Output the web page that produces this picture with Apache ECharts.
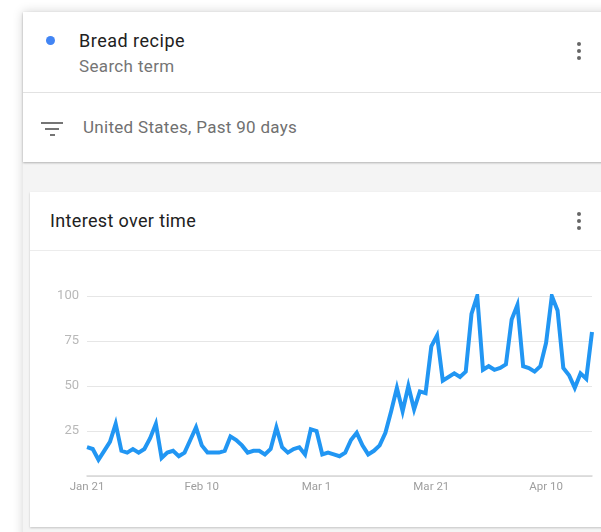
<!DOCTYPE html>
<html>
<head>
<meta charset="utf-8">
<script src="https://cdn.jsdelivr.net/npm/echarts@6/dist/echarts.min.js"></script>
<style>
  html, body { margin: 0; padding: 0; width: 601px; height: 532px; overflow: hidden; background: #fff; font-family: Roboto, 'Noto Sans', sans-serif; }
  .panel { position: absolute; left: 23px; top: 12px; width: 600px; height: 530px; background: #f4f4f4; box-shadow: 0 0 10px rgba(0,0,0,0.18); }
  .card1 { position: absolute; left: 23px; top: 12px; width: 600px; height: 150px; background: #fff; box-shadow: 0 1px 2px rgba(0,0,0,0.28); }
  .card1 .divider { position: absolute; left: 0; right: 0; top: 80px; height: 1px; background: #e2e2e2; }
  .card2 { position: absolute; left: 30px; top: 192px; width: 590px; height: 335px; background: #fff; box-shadow: 0 1px 2px rgba(0,0,0,0.2); }
  .card2 .divider { position: absolute; left: 0; right: 0; top: 58px; height: 1px; background: #ececec; }
  .txt { position: absolute; white-space: nowrap; }
  .dot { position: absolute; width: 9px; height: 9px; border-radius: 50%; background: #4285f4; }
  .menu { position: absolute; width: 4px; }
  .menu i { display: block; width: 4px; height: 4px; border-radius: 50%; background: #666; margin-bottom: 3px; }
  .filter i { position: absolute; height: 2px; background: #757575; }
  #chart { position: absolute; left: 0; top: 0; width: 601px; height: 532px; }
</style>
</head>
<body>
<div class="panel"></div>
<div class="card1">
  <div class="divider"></div>
</div>
<div class="card2">
  <div class="divider"></div>
</div>

<div class="dot" style="left:46px; top:36px;"></div>
<div class="txt" style="left:79px; top:30px; font-size:18px; letter-spacing:0.5px; color:#212121;">Bread recipe</div>
<div class="txt" style="left:79px; top:56px; font-size:17px; letter-spacing:0.35px; color:#757575;">Search term</div>
<div class="menu" style="left:577px; top:42px;"><i></i><i></i><i></i></div>

<div class="filter">
  <i style="left:41px; top:122px; width:22px;"></i>
  <i style="left:45px; top:128px; width:14px;"></i>
  <i style="left:50px; top:134px; width:5px;"></i>
</div>
<div class="txt" style="left:83px; top:117px; font-size:17px; letter-spacing:0.3px; color:#707070;">United States, Past 90 days</div>

<div class="txt" style="left:50px; top:210px; font-size:18px; letter-spacing:0.35px; color:#212121;">Interest over time</div>
<div class="menu" style="left:577px; top:212px;"><i></i><i></i><i></i></div>

<div id="chart"></div>

<script>
// daily interest, Jan 21 2020 -> Apr 18 2020
const startDate = new Date(2020, 0, 21);
const interest = [
  16, 15, 9, 14, 19, 29, 14, 13, 15, 13,
  15, 21, 29, 10, 13, 14, 11, 13, 20, 27,
  17, 13, 13, 13, 14, 22, 20, 17, 13, 14,
  14, 12, 15, 27, 16, 13, 15, 16, 12, 26,
  25, 12, 13, 12, 11, 13, 20, 24, 17, 12,
  14, 17, 24, 36, 49, 36, 50, 37, 47, 46,
  72, 78, 53, 55, 57, 55, 58, 90, 100, 59,
  61, 59, 60, 62, 87, 95, 61, 60, 58, 61,
  74, 100, 92, 60, 56, 49, 57, 54, 80
];
const tickLabels = ['Jan 21', 'Feb 10', 'Mar 1', 'Mar 21', 'Apr 10'];
const yTicks = [25, 50, 75, 100];

const monthNames = ['Jan', 'Feb', 'Mar', 'Apr', 'May', 'Jun', 'Jul', 'Aug', 'Sep', 'Oct', 'Nov', 'Dec'];
const days = interest.map((v, i) => {
  const d = new Date(startDate.getTime());
  d.setDate(d.getDate() + i);
  return monthNames[d.getMonth()] + ' ' + d.getDate();
});

const chart = echarts.init(document.getElementById('chart'), null, { renderer: 'canvas' });

chart.setOption({
  backgroundColor: 'transparent',
  animation: false,
  grid: { left: 87, right: 9, top: 296, bottom: 56, containLabel: false },
  xAxis: {
    type: 'category',
    boundaryGap: false,
    data: days,
    axisLine: { lineStyle: { color: '#d6d6d6', width: 1.5 } },
    axisTick: { show: false },
    axisLabel: {
      color: '#9e9e9e',
      fontSize: 11.5,
      fontFamily: 'Roboto',
      margin: 5,
      interval: (idx, val) => tickLabels.indexOf(val) >= 0
    },
    splitLine: { show: false }
  },
  yAxis: {
    type: 'value',
    min: 0,
    max: 100,
    interval: 25,
    axisLine: { show: false },
    axisTick: { show: false },
    axisLabel: {
      color: '#b8b8b8',
      fontSize: 13,
      fontFamily: 'Roboto',
      margin: 8,
      formatter: v => yTicks.indexOf(v) >= 0 ? String(v) : ''
    },
    splitLine: { lineStyle: { color: '#e6e6e6', width: 1 } }
  },
  series: [{
    type: 'line',
    data: interest,
    showSymbol: false,
    smooth: false,
    lineStyle: { color: '#2196f3', width: 4, join: 'miter' },
    itemStyle: { color: '#2196f3' }
  }]
});
</script>
</body>
</html>
